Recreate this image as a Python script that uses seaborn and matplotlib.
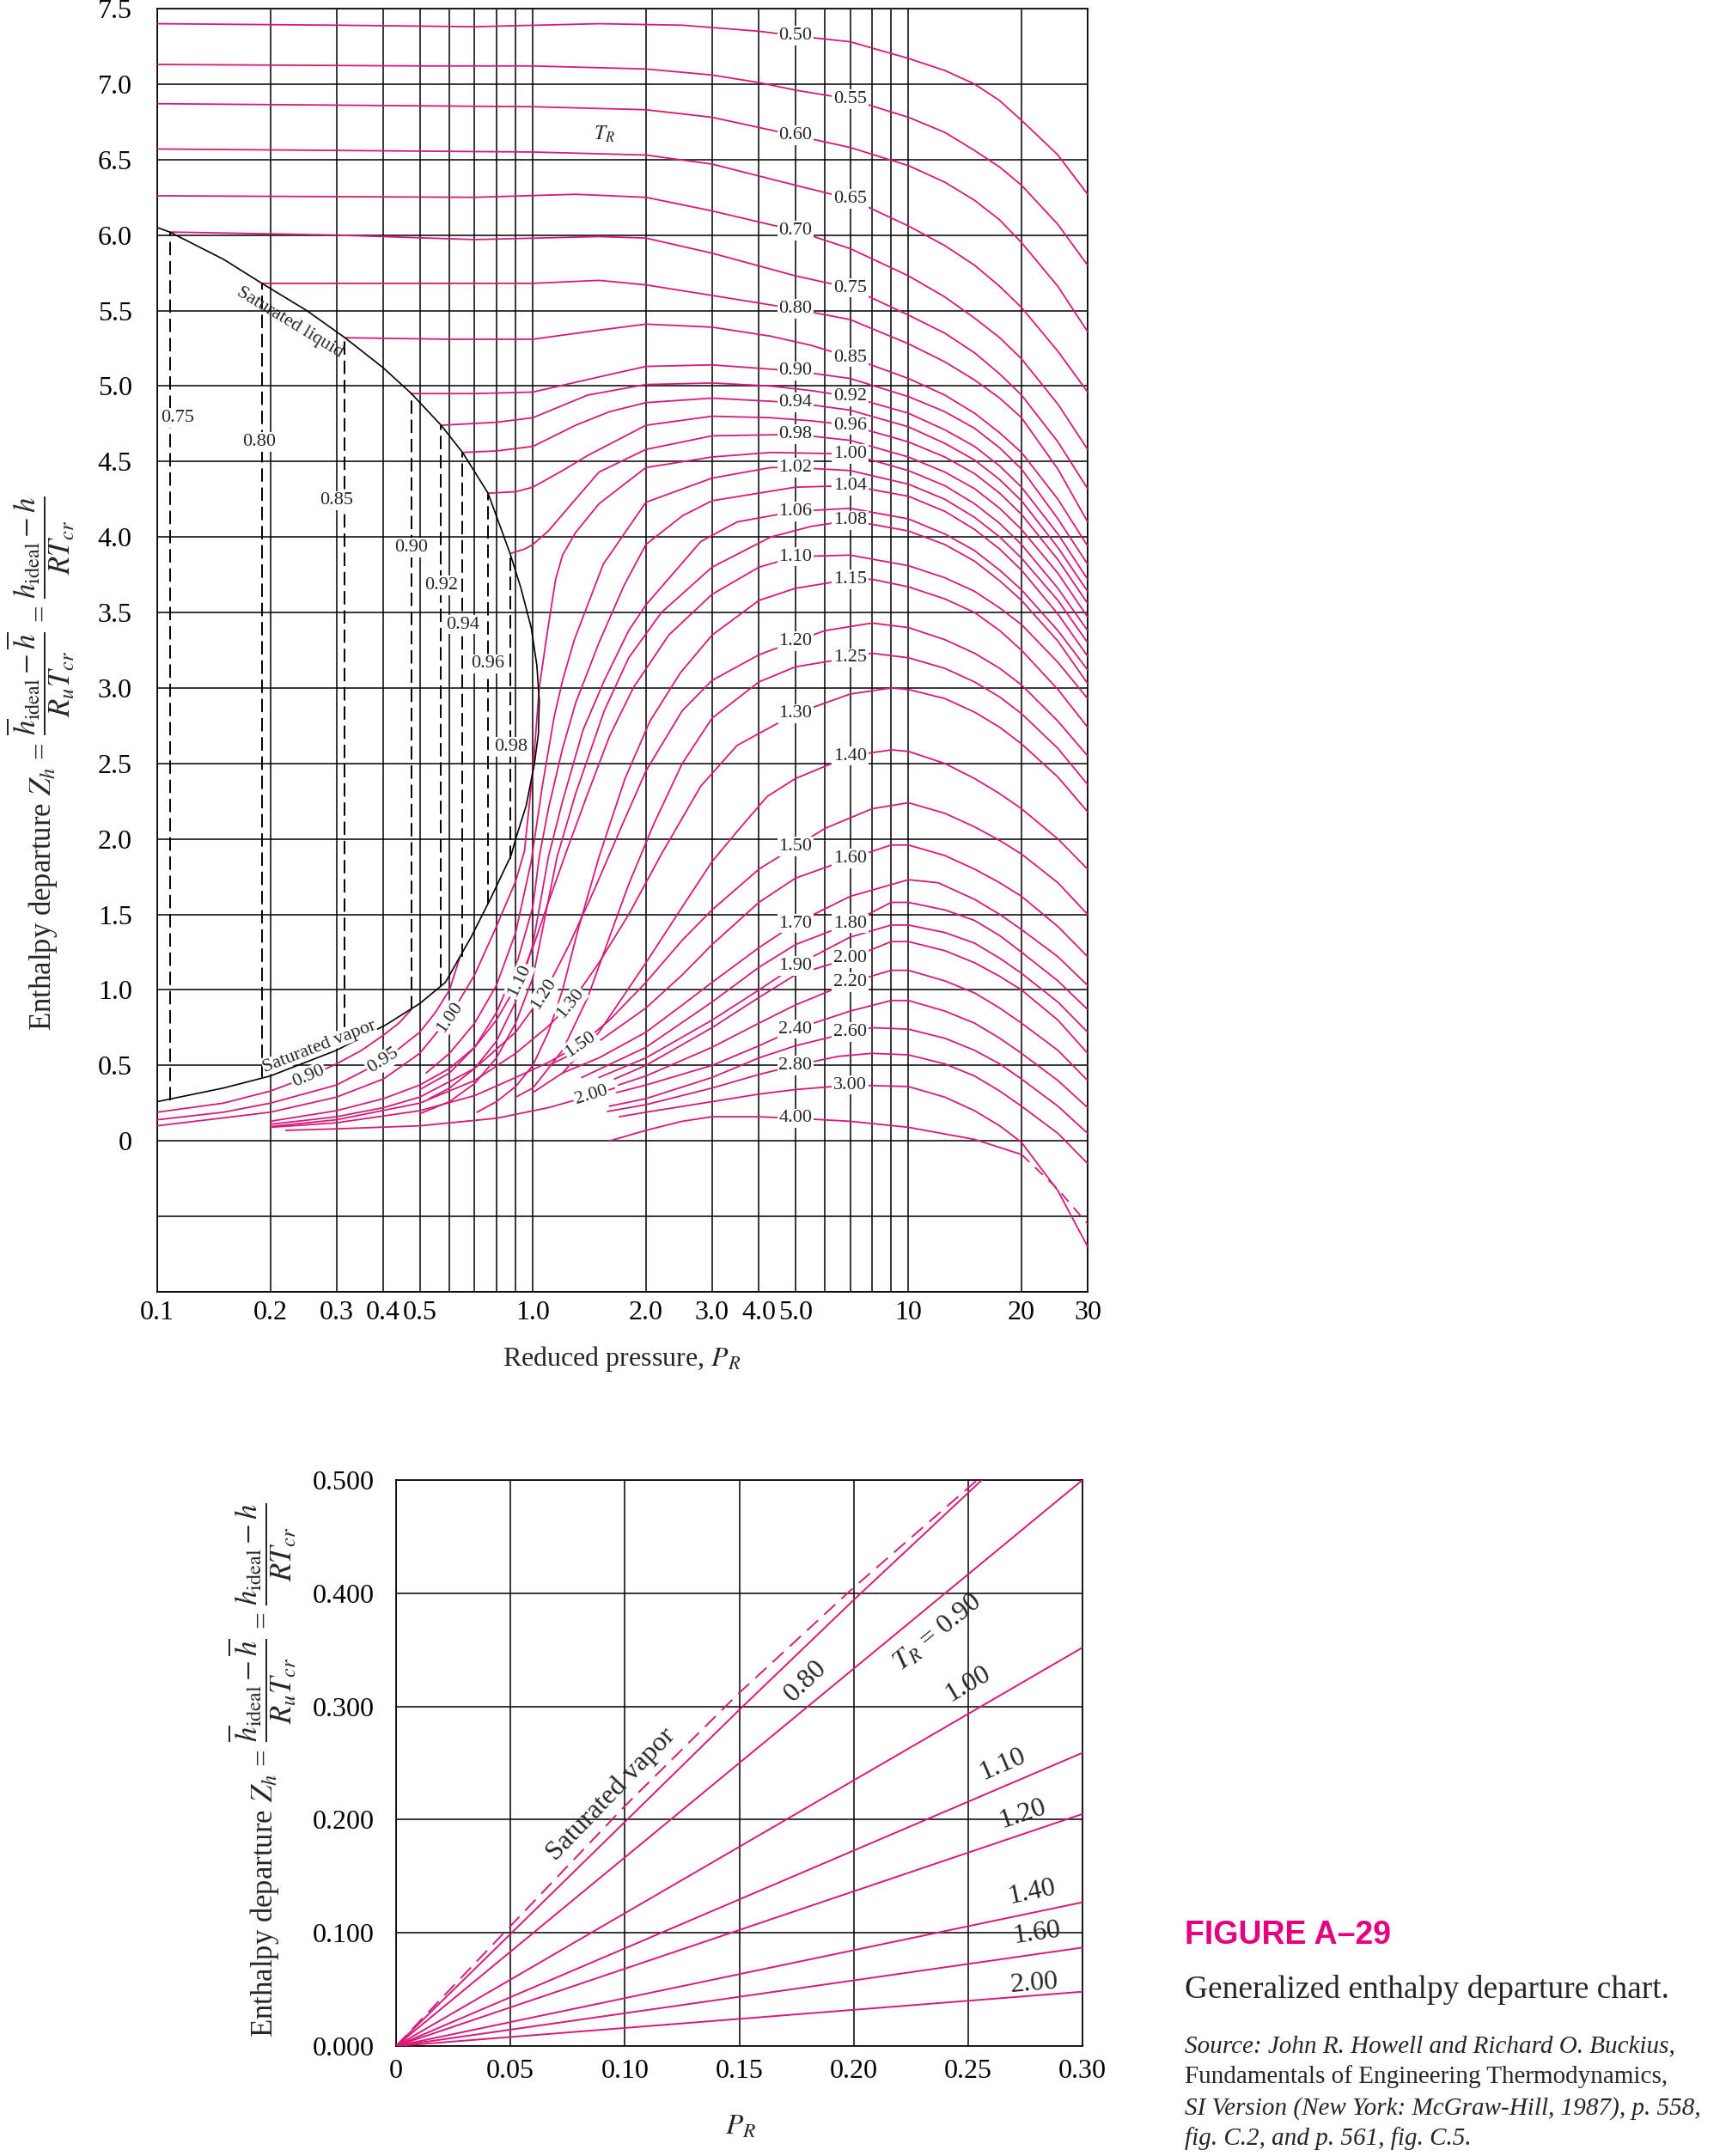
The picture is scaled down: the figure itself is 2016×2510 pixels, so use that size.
import numpy as np
import pandas as pd
import matplotlib
matplotlib.use("Agg")
import matplotlib.pyplot as plt
import seaborn as sns

# Generalized enthalpy departure chart

PINK = "#D8197A"
TITLE_PINK = "#E4007E"

# ---- high / full range isotherms (Pr, Zh) ----
tr050 = [(0.1, 7.40), (0.3, 7.39), (0.7, 7.38), (1.5, 7.40), (2.5, 7.39), (4, 7.35), (5, 7.32), (7, 7.28), (10, 7.17), (12.5, 7.09), (15, 7.00), (17.5, 6.89), (20, 6.76), (25, 6.53), (30, 6.27)]
tr055 = [(0.1, 7.13), (0.5, 7.12), (1, 7.12), (2, 7.10), (3, 7.06), (4, 7.01), (5, 6.96), (7, 6.90), (10, 6.78), (12.5, 6.68), (15, 6.56), (17.5, 6.45), (20, 6.33), (25, 6.07), (30, 5.80)]
tr060 = [(0.1, 6.87), (1, 6.85), (2, 6.83), (3, 6.78), (5, 6.66), (7, 6.58), (10, 6.46), (12.5, 6.35), (15, 6.23), (17.5, 6.10), (20, 5.95), (25, 5.66), (30, 5.36)]
tr065 = [(0.1, 6.57), (1, 6.55), (2, 6.53), (3, 6.47), (5, 6.33), (7, 6.24), (10, 6.06), (12.5, 5.93), (15, 5.80), (17.5, 5.66), (20, 5.52), (25, 5.23), (30, 4.96)]
tr070 = [(0.1, 6.26), (0.7, 6.25), (1.3, 6.27), (2, 6.25), (3, 6.16), (5, 6.03), (7, 5.91), (10, 5.73), (12.5, 5.59), (15, 5.45), (17.5, 5.32), (20, 5.18), (25, 4.88), (30, 4.58)]
tr075 = [(0.108, 6.02), (0.3, 6.00), (0.7, 5.97), (1.5, 5.99), (2, 5.98), (3, 5.88), (5, 5.73), (7, 5.65), (10, 5.47), (12.5, 5.35), (15, 5.22), (17.5, 5.08), (20, 4.94), (25, 4.63), (30, 4.32)]
tr080 = [(0.19, 5.68), (0.5, 5.68), (1, 5.68), (1.5, 5.70), (2, 5.67), (3, 5.60), (4, 5.55), (5, 5.51), (7, 5.44), (10, 5.28), (12.5, 5.16), (15, 5.04), (17.5, 4.92), (20, 4.79), (25, 4.45), (30, 4.10)]
tr085 = [(0.316, 5.32), (0.6, 5.31), (1, 5.31), (1.5, 5.37), (2, 5.41), (3, 5.39), (4.3, 5.33), (5.5, 5.27), (7, 5.19), (10, 5.05), (12.5, 4.94), (15, 4.82), (17.5, 4.69), (20, 4.56), (25, 4.25), (30, 3.94)]
tr090 = [(0.475, 4.95), (0.7, 4.95), (1, 4.96), (1.5, 5.06), (2, 5.13), (3, 5.14), (5, 5.10), (7, 5.05), (10, 4.93), (12.5, 4.83), (15, 4.72), (17.5, 4.59), (20, 4.45), (25, 4.12), (30, 3.82)]
tr092 = [(0.57, 4.74), (0.8, 4.76), (1, 4.79), (1.4, 4.94), (2, 5.01), (3, 5.02), (4.3, 5.00), (5.5, 4.97), (7, 4.93), (10, 4.82), (12.5, 4.71), (15, 4.60), (17.5, 4.47), (20, 4.33), (25, 4.02), (30, 3.72)]
tr094 = [(0.65, 4.56), (0.8, 4.57), (1, 4.60), (1.3, 4.74), (1.6, 4.83), (2, 4.89), (3, 4.92), (5, 4.89), (7, 4.84), (10, 4.73), (12.5, 4.62), (15, 4.51), (17.5, 4.38), (20, 4.24), (25, 3.93), (30, 3.64)]
tr096 = [(0.76, 4.29), (0.9, 4.30), (1, 4.33), (1.2, 4.44), (1.4, 4.54), (2, 4.74), (3, 4.80), (4.3, 4.79), (5.5, 4.77), (7, 4.74), (10, 4.63), (12.5, 4.53), (15, 4.42), (17.5, 4.29), (20, 4.15), (25, 3.85), (30, 3.56)]
tr098 = [(0.87, 3.89), (0.95, 3.92), (1, 3.95), (1.1, 4.04), (1.2, 4.15), (1.5, 4.43), (2, 4.58), (3, 4.67), (5, 4.68), (7, 4.64), (10, 4.53), (12.5, 4.43), (15, 4.32), (17.5, 4.19), (20, 4.05), (25, 3.76), (30, 3.47)]
tr100 = [(0.1, 0.10), (0.2, 0.19), (0.3, 0.29), (0.4, 0.41), (0.5, 0.58), (0.6, 0.82), (0.7, 1.10), (0.8, 1.42), (0.9, 1.72), (0.95, 1.92), (1.0, 2.45), (1.04, 3.00), (1.09, 3.35), (1.15, 3.72), (1.2, 3.88), (1.3, 4.03), (1.5, 4.22), (2, 4.46), (3, 4.53), (4.3, 4.56), (7, 4.55), (10, 4.44), (12.5, 4.34), (15, 4.22), (17.5, 4.09), (20, 3.95), (25, 3.66), (30, 3.38)]
tr102 = [(0.52, 0.45), (0.6, 0.58), (0.7, 0.78), (0.8, 1.03), (0.9, 1.38), (0.99, 1.85), (1.06, 2.35), (1.14, 2.81), (1.2, 3.05), (1.29, 3.32), (1.54, 3.82), (2, 4.23), (3, 4.39), (4.3, 4.46), (5, 4.46), (7, 4.44), (10, 4.35), (12.5, 4.25), (15, 4.13), (17.5, 4.00), (20, 3.86), (25, 3.58), (30, 3.30)]
tr104 = [(0.5, 0.34), (0.6, 0.45), (0.7, 0.62), (0.8, 0.85), (0.9, 1.15), (1.0, 1.55), (1.04, 1.88), (1.1, 2.2), (1.2, 2.6), (1.3, 2.9), (1.5, 3.3), (1.75, 3.68), (2, 3.95), (2.5, 4.14), (3, 4.24), (5, 4.33), (7, 4.34), (10, 4.27), (12.5, 4.17), (15, 4.05), (17.5, 3.92), (20, 3.78), (25, 3.49), (30, 3.21)]
tr106 = [(0.53, 0.28), (0.6, 0.35), (0.7, 0.48), (0.8, 0.66), (0.9, 0.92), (1.0, 1.3), (1.1, 1.88), (1.2, 2.25), (1.36, 2.72), (1.55, 3.05), (1.8, 3.38), (2, 3.55), (2.8, 3.97), (3.5, 4.1), (5, 4.17), (7, 4.19), (10, 4.12), (12.5, 4.02), (15, 3.91), (17.5, 3.78), (20, 3.65), (25, 3.38), (30, 3.12)]
tr108 = [(0.5, 0.18), (0.6, 0.26), (0.7, 0.38), (0.8, 0.55), (0.9, 0.78), (1.0, 1.08), (1.16, 1.88), (1.3, 2.3), (1.55, 2.85), (1.8, 3.2), (2.2, 3.5), (3, 3.8), (4.3, 4.0), (5.5, 4.07), (7, 4.11), (10, 4.04), (12.5, 3.95), (15, 3.84), (17.5, 3.71), (20, 3.58), (25, 3.31), (30, 3.03)]
tr110 = [(0.2, 0.13), (0.3, 0.2), (0.4, 0.28), (0.5, 0.37), (0.6, 0.48), (0.7, 0.62), (0.8, 0.8), (0.92, 1.06), (1.0, 1.28), (1.1, 1.58), (1.23, 1.92), (1.4, 2.3), (1.6, 2.68), (1.85, 3.0), (2.3, 3.35), (3, 3.62), (4, 3.8), (5, 3.87), (7, 3.88), (10, 3.81), (12.5, 3.73), (15, 3.64), (17.5, 3.53), (20, 3.42), (25, 3.17), (30, 2.93)]
tr115 = [(0.71, 0.19), (0.8, 0.26), (0.9, 0.36), (1.0, 0.5), (1.1, 0.72), (1.2, 1.0), (1.32, 1.4), (1.5, 1.88), (1.76, 2.4), (2.05, 2.78), (2.47, 3.1), (3, 3.35), (4, 3.58), (5, 3.66), (7, 3.72), (8, 3.72), (10, 3.67), (12.5, 3.59), (15, 3.5), (17.5, 3.38), (20, 3.25), (25, 2.99), (30, 2.74)]
tr120 = [(0.2, 0.11), (0.3, 0.16), (0.4, 0.22), (0.5, 0.29), (0.7, 0.48), (0.9, 0.72), (1.08, 0.99), (1.25, 1.3), (1.45, 1.65), (1.7, 2.05), (2, 2.45), (2.5, 2.85), (3, 3.05), (4, 3.22), (5, 3.31), (6, 3.38), (8, 3.43), (10, 3.4), (12.5, 3.32), (15, 3.23), (17.5, 3.13), (20, 3.02), (25, 2.78), (30, 2.55)]
tr125 = [(0.9, 0.29), (1.0, 0.35), (1.2, 0.6), (1.4, 0.95), (1.6, 1.35), (1.8, 1.7), (2.1, 2.1), (2.5, 2.5), (3, 2.8), (4, 3.04), (5, 3.14), (7, 3.2), (8, 3.23), (10, 3.2), (12.5, 3.13), (15, 3.04), (17.5, 2.94), (20, 2.83), (25, 2.6), (30, 2.36)]
tr130 = [(0.2, 0.095), (0.3, 0.14), (0.5, 0.25), (0.7, 0.4), (0.9, 0.58), (1.1, 0.76), (1.26, 0.91), (1.5, 1.18), (1.8, 1.5), (2.2, 1.9), (2.8, 2.35), (3.5, 2.62), (5, 2.83), (7, 2.96), (9, 3.0), (10, 2.99), (12.5, 2.93), (15, 2.84), (17.5, 2.74), (20, 2.63), (25, 2.41), (30, 2.18)]
tr140 = [(1.0, 0.32), (1.2, 0.45), (1.5, 0.72), (2, 1.18), (2.5, 1.55), (3, 1.85), (3.5, 2.05), (4.2, 2.28), (5, 2.4), (7, 2.55), (9, 2.59), (10, 2.58), (12.5, 2.5), (15, 2.4), (17.5, 2.3), (20, 2.2), (25, 2.0), (30, 1.8)]
tr150 = [(0.2, 0.09), (0.3, 0.12), (0.5, 0.2), (0.7, 0.3), (0.9, 0.42), (1.1, 0.52), (1.34, 0.64), (1.6, 0.8), (2, 1.05), (2.5, 1.33), (3, 1.53), (4, 1.8), (5, 1.95), (6, 2.07), (8, 2.2), (10, 2.24), (12.5, 2.17), (15, 2.08), (17.5, 1.99), (20, 1.9), (25, 1.71), (30, 1.5)]
tr160 = [(1.1, 0.5), (1.5, 0.66), (2, 0.88), (2.5, 1.1), (3, 1.3), (4, 1.58), (5, 1.74), (7, 1.87), (9, 1.96), (10, 1.96), (12.5, 1.89), (15, 1.8), (17.5, 1.71), (20, 1.62), (25, 1.42), (30, 1.22)]
tr170 = [(1.2, 0.45), (1.5, 0.55), (2, 0.72), (2.5, 0.9), (3, 1.05), (4, 1.28), (5, 1.44), (7, 1.62), (10, 1.73), (12, 1.71), (15, 1.6), (17.5, 1.5), (20, 1.4), (25, 1.22), (30, 1.03)]
tr180 = [(1.35, 0.42), (2, 0.62), (3, 0.92), (4, 1.15), (5, 1.3), (7, 1.44), (9, 1.58), (10, 1.58), (12.5, 1.53), (15, 1.46), (17.5, 1.36), (20, 1.25), (25, 1.06), (30, 0.87)]
tr190 = [(1.5, 0.42), (2, 0.55), (3, 0.8), (4, 1.0), (5, 1.16), (7, 1.35), (9, 1.43), (10, 1.43), (12.5, 1.38), (15, 1.31), (17.5, 1.21), (20, 1.11), (25, 0.92), (30, 0.72)]
tr200 = [(1.65, 0.41), (2, 0.5), (3, 0.75), (4, 0.95), (5, 1.1), (7, 1.21), (9, 1.32), (10, 1.32), (12.5, 1.26), (15, 1.18), (17.5, 1.09), (20, 1.0), (25, 0.8), (30, 0.58)]
tr220 = [(1.69, 0.37), (2, 0.43), (3, 0.62), (4, 0.78), (5, 0.9), (7, 1.05), (9, 1.13), (10, 1.13), (12.5, 1.06), (15, 0.98), (17.5, 0.88), (20, 0.78), (25, 0.6), (30, 0.40)]
tr240 = [(1.67, 0.32), (2, 0.37), (3, 0.5), (4, 0.63), (5, 0.74), (7, 0.86), (9, 0.93), (10, 0.93), (12.5, 0.86), (15, 0.78), (17.5, 0.68), (20, 0.58), (25, 0.4), (30, 0.22)]
tr260 = [(1.6, 0.23), (2, 0.28), (3, 0.42), (4, 0.55), (5, 0.63), (7, 0.72), (8, 0.75), (10, 0.74), (12.5, 0.68), (15, 0.6), (17.5, 0.51), (20, 0.41), (25, 0.23), (30, 0.05)]
tr280 = [(1.58, 0.195), (2, 0.24), (3, 0.35), (4, 0.44), (5, 0.5), (6.5, 0.56), (8, 0.58), (10, 0.57), (12.5, 0.51), (15, 0.43), (17.5, 0.33), (20, 0.23), (25, 0.05), (30, -0.15)]
tr300 = [(1.7, 0.16), (2, 0.19), (3, 0.26), (4, 0.31), (5, 0.34), (7, 0.37), (10, 0.36), (12.5, 0.29), (15, 0.2), (17.5, 0.1), (20, -0.01), (25, -0.33), (30, -0.7)]
tr400 = [(1.6, 0.0), (2, 0.07), (2.5, 0.13), (3, 0.16), (4, 0.16), (5, 0.15), (7, 0.13), (10, 0.09), (15, 0.01), (20, -0.09)]
tr400_dash = [(20, -0.09), (25, -0.32), (30, -0.55)]

# low pressure (vapour) branches
lo090 = [(0.1, 0.19), (0.15, 0.25), (0.2, 0.33), (0.25, 0.42), (0.3, 0.51), (0.35, 0.6), (0.4, 0.7), (0.44, 0.78), (0.475, 0.87)]
lo095 = [(0.1, 0.14), (0.15, 0.19), (0.2, 0.25), (0.3, 0.37), (0.4, 0.53), (0.5, 0.72), (0.55, 0.85), (0.6, 1.0), (0.64, 1.22)]
lo200 = [(0.22, 0.07), (0.3, 0.08), (0.5, 0.1), (0.8, 0.15), (1.1, 0.22), (1.43, 0.30), (1.65, 0.35)]

# saturation dome: liquid branch then vapour branch
sat_liquid = [(0.1, 6.05), (0.108, 6.02), (0.15, 5.84), (0.19, 5.68), (0.25, 5.50), (0.316, 5.32), (0.4, 5.12), (0.475, 4.95), (0.57, 4.74), (0.65, 4.56), (0.76, 4.29), (0.87, 3.89), (0.93, 3.66), (0.99, 3.40), (1.025, 3.15), (1.04, 2.92)]
sat_vapor = [(1.04, 2.92), (1.035, 2.7), (1.01, 2.5), (0.96, 2.22), (0.9, 2.0), (0.875, 1.89), (0.77, 1.6), (0.685, 1.35), (0.585, 1.05), (0.5, 0.91), (0.407, 0.77), (0.3, 0.6), (0.2, 0.43), (0.15, 0.35), (0.1, 0.26)]

# dashed two-phase lines
sat_tr = ["0.75", "0.80", "0.85", "0.90", "0.92", "0.94", "0.96", "0.98"]
sat_pr = [0.108, 0.19, 0.316, 0.475, 0.57, 0.65, 0.76, 0.87]
sat_zl = [6.02, 5.68, 5.32, 4.95, 4.74, 4.56, 4.29, 3.89]
sat_zv = [0.27, 0.42, 0.63, 0.87, 1.02, 1.22, 1.57, 1.87]
sat_lab_pr = [0.113, 0.187, 0.30, 0.475, 0.57, 0.65, 0.76, 0.875]
sat_lab_z = [4.79, 4.63, 4.24, 3.93, 3.68, 3.42, 3.16, 2.61]

# curve labels at Pr = 5 and Pr = 7
lab_at5 = ["0.50", "0.60", "0.70", "0.80", "0.90", "0.94", "0.98", "1.02", "1.06", "1.10", "1.20", "1.30", "1.50", "1.70", "1.90", "2.40", "2.80", "4.00"]
lab_at7 = ["0.55", "0.65", "0.75", "0.85", "0.92", "0.96", "1.00", "1.04", "1.08", "1.15", "1.25", "1.40", "1.60", "1.80", "2.00", "2.20", "2.60", "3.00"]
low_lab = ["0.90", "0.95", "1.00", "1.10", "1.20", "1.30", "1.50", "2.00"]
low_key = ["lo0.90", "lo0.95", "1.00", "1.10", "1.20", "1.30", "1.50", "lo2.00"]
low_lab_pr = [0.253, 0.40, 0.60, 0.92, 1.07, 1.26, 1.34, 1.43]

x_ticks = [0.1, 0.2, 0.3, 0.4, 0.5, 1, 2, 3, 4, 5, 10, 20, 30]
x_ticklabels = ["0.1", "0.2", "0.3", "0.4", "0.5", "1.0", "2.0", "3.0", "4.0", "5.0", "10", "20", "30"]
x_minor = [0.6, 0.7, 0.8, 0.9, 6, 7, 8, 9]

# ---- low pressure chart ----
bot_satvap = [(0, 0), (0.05, 0.106), (0.10, 0.212), (0.15, 0.312), (0.20, 0.405), (0.254, 0.50)]
bot_080 = [(0, 0), (0.05, 0.099), (0.10, 0.198), (0.15, 0.297), (0.20, 0.394), (0.256, 0.50)]
bot_tr = ["0.90", "1.00", "1.10", "1.20", "1.40", "1.60", "2.00"]
bot_end_z = [0.50, 0.352, 0.259, 0.205, 0.127, 0.087, 0.048]
bot_labels = ["Saturated vapor", "0.80", r"$T_R$ = 0.90", "1.00", "1.10", "1.20", "1.40", "1.60", "2.00"]
bot_lab_x = [0.094, 0.179, 0.237, 0.250, 0.265, 0.274, 0.278, 0.280, 0.279]
bot_lab_z = [0.222, 0.322, 0.365, 0.320, 0.249, 0.205, 0.136, 0.100, 0.055]

sns.set_theme(style="white")
plt.rcParams["font.family"] = ["Liberation Serif", "DejaVu Serif"]
plt.rcParams["mathtext.fontset"] = "stix"

curves = {
    "0.50": tr050, "0.55": tr055, "0.60": tr060, "0.65": tr065, "0.70": tr070,
    "0.75": tr075, "0.80": tr080, "0.85": tr085, "0.90": tr090, "0.92": tr092,
    "0.94": tr094, "0.96": tr096, "0.98": tr098, "1.00": tr100, "1.02": tr102,
    "1.04": tr104, "1.06": tr106, "1.08": tr108, "1.10": tr110, "1.15": tr115,
    "1.20": tr120, "1.25": tr125, "1.30": tr130, "1.40": tr140, "1.50": tr150,
    "1.60": tr160, "1.70": tr170, "1.80": tr180, "1.90": tr190, "2.00": tr200,
    "2.20": tr220, "2.40": tr240, "2.60": tr260, "2.80": tr280, "3.00": tr300,
    "4.00": tr400, "lo0.90": lo090, "lo0.95": lo095, "lo2.00": lo200,
}
rows = [(k, p, z) for k, pts in curves.items() for p, z in pts]
df = pd.DataFrame(rows, columns=["curve", "pr", "z"])

fig = plt.figure(figsize=(20.16, 25.10), dpi=100)
ax = fig.add_axes([183 / 2016, 1 - 1504 / 2510, (1266 - 183) / 2016, (1504 - 10) / 2510])
ax.set_xscale("log")
ax.set_xlim(0.1, 30)
ax.set_ylim(-1.0, 7.5)

sns.lineplot(data=df, x="pr", y="z", units="curve", estimator=None, sort=False,
             color=PINK, lw=1.3, ax=ax, zorder=3)
dash = pd.DataFrame(tr400_dash, columns=["pr", "z"])
sns.lineplot(data=dash, x="pr", y="z", estimator=None, sort=False, color=PINK, lw=1.3,
             linestyle=(0, (7, 5)), ax=ax, zorder=3)
dome = pd.DataFrame(sat_liquid + sat_vapor[1:], columns=["pr", "z"])
sns.lineplot(data=dome, x="pr", y="z", estimator=None, sort=False, color="black", lw=1.2,
             ax=ax, zorder=3)
ax.vlines(sat_pr, sat_zv, sat_zl, colors="black", linestyles=(0, (8, 3.5)), lw=1.4, zorder=2)

ax.set_xticks(x_ticks)
ax.set_xticklabels(x_ticklabels)
ax.set_xticks(x_minor, minor=True)
ax.set_xticklabels([], minor=True)
yt = np.arange(-1.0, 7.51, 0.5)
ax.set_yticks(yt)
ax.set_yticklabels(["" if v < 0 else ("0" if v == 0 else f"{v:.1f}") for v in yt])
ax.tick_params(axis="both", which="both", length=0, labelsize=23, colors="black")
ax.tick_params(axis="y", pad=21)
ax.tick_params(axis="x", pad=7)
ax.grid(True, which="both", color="black", lw=1.1)
ax.set_axisbelow(True)
for s in ax.spines.values():
    s.set_color("black")
    s.set_linewidth(1.2)
ax.set_xlabel("")
ax.set_ylabel("")


def log_interp(pts, x0):
    xs = np.log10([p[0] for p in pts])
    ys = [p[1] for p in pts]
    return float(np.interp(np.log10(x0), xs, ys))


def angle_on(axis, pts, x0, logx=True, d=0.03):
    if logx:
        xa, xb = x0 / (1 + d), x0 * (1 + d)
        ya, yb = log_interp(pts, xa), log_interp(pts, xb)
    else:
        xs = [p[0] for p in pts]
        ys = [p[1] for p in pts]
        xa, xb = x0 - d * 0.3, x0 + d * 0.3
        ya, yb = np.interp(xa, xs, ys), np.interp(xb, xs, ys)
    pa, pb = axis.transData.transform([(xa, ya), (xb, yb)])
    return np.degrees(np.arctan2(pb[1] - pa[1], pb[0] - pa[0]))


box = dict(boxstyle="square,pad=0.08", fc="white", ec="none")
for names, px in ((lab_at5, 5.0), (lab_at7, 7.0)):
    for n in names:
        ax.text(px, log_interp(curves[n], px), n, fontsize=16, ha="center", va="center",
                bbox=box, zorder=6)

for n, k, px in zip(low_lab, low_key, low_lab_pr):
    ang = angle_on(ax, curves[k], px)
    ax.text(px, log_interp(curves[k], px), n, fontsize=16, ha="center", va="center",
            rotation=ang, rotation_mode="anchor", bbox=box, zorder=6)

for n, px, pz in zip(sat_tr, sat_lab_pr, sat_lab_z):
    ax.text(px, pz, n, fontsize=16, ha="center", va="center", bbox=box, zorder=6)

ax.text(0.225, 5.42, "Saturated liquid", fontsize=16, ha="center", va="center",
        rotation=angle_on(ax, sat_liquid, 0.225), rotation_mode="anchor", zorder=6)
vap_sorted = sat_vapor[::-1]
ax.text(0.27, 0.625, "Saturated vapor", fontsize=16, ha="center", va="center",
        rotation=angle_on(ax, vap_sorted[:11], 0.27), rotation_mode="anchor",
        bbox=dict(boxstyle="square,pad=0.0", fc="white", ec="none"), zorder=6)
ax.text(1.55, 6.67, r"$T_R$", fontsize=17, ha="center", va="center", zorder=6)

fig.text(724 / 2016, 1 - 1582 / 2510, r"Reduced pressure, $P_R$", fontsize=23,
         ha="center", va="center")
ylab = (r"Enthalpy departure $Z_h$ = $\dfrac{\overline{h}_{\mathrm{ideal}}-\overline{h}}{R_u T_{cr}}$"
        r" = $\dfrac{h_{\mathrm{ideal}}-h}{RT_{cr}}$")
fig.text(47 / 2016, 1 - 889 / 2510, ylab, fontsize=25, rotation=90, ha="center", va="center")

# ---- bottom chart ----
bx = fig.add_axes([461 / 2016, 1 - 2382 / 2510, (1260 - 461) / 2016, (2382 - 1723) / 2510])
bx.set_xlim(0, 0.30)
bx.set_ylim(0, 0.50)
bsat = pd.DataFrame(bot_satvap, columns=["pr", "z"])
sns.lineplot(data=bsat, x="pr", y="z", estimator=None, sort=False, color=PINK, lw=1.4,
             linestyle=(0, (9, 5)), ax=bx, zorder=3)
b80 = pd.DataFrame(bot_080, columns=["pr", "z"])
sns.lineplot(data=b80, x="pr", y="z", estimator=None, sort=False, color=PINK, lw=1.4,
             ax=bx, zorder=3)
bot_lines = {"Saturated vapor": bot_satvap, "0.80": bot_080}
for t, zend in zip(bot_tr, bot_end_z):
    pts = [(0.0, 0.0), (0.30, zend)]
    bot_lines[t] = pts
    sns.lineplot(x=[p[0] for p in pts], y=[p[1] for p in pts], estimator=None, sort=False,
                 color=PINK, lw=1.4, ax=bx, zorder=3)
bot_keys = ["Saturated vapor", "0.80", "0.90", "1.00", "1.10", "1.20", "1.40", "1.60", "2.00"]
for lab, key, lx, lz in zip(bot_labels, bot_keys, bot_lab_x, bot_lab_z):
    ang = angle_on(bx, bot_lines[key], lx, logx=False)
    bx.text(lx, lz, lab, fontsize=23, ha="center", va="center", rotation=ang,
            rotation_mode="anchor", zorder=6)

bx.set_xticks(np.arange(0, 0.301, 0.05))
bx.set_xticklabels(["0", "0.05", "0.10", "0.15", "0.20", "0.25", "0.30"])
bx.set_yticks(np.arange(0, 0.501, 0.1))
bx.set_yticklabels(["0.000", "0.100", "0.200", "0.300", "0.400", "0.500"])
bx.tick_params(axis="both", length=0, labelsize=23, colors="black")
bx.tick_params(axis="y", pad=18)
bx.tick_params(axis="x", pad=11)
bx.grid(True, color="black", lw=1.1)
bx.set_axisbelow(True)
for s in bx.spines.values():
    s.set_color("black")
    s.set_linewidth(1.2)
bx.set_xlabel("")
bx.set_ylabel("")
fig.text(862 / 2016, 1 - 2476 / 2510, r"$P_R$", fontsize=24, ha="center", va="center")
fig.text(305 / 2016, 1 - 2061 / 2510, ylab, fontsize=25, rotation=90, ha="center", va="center")

# ---- caption ----
cx = 1379 / 2016
fig.text(cx, 1 - 2253 / 2510, "FIGURE A\u201329", fontsize=27, fontweight="bold", color=TITLE_PINK,
         family=["Liberation Sans Narrow", "Liberation Sans", "DejaVu Sans"], va="center")
fig.text(cx, 1 - 2316 / 2510, "Generalized enthalpy departure chart.", fontsize=27, va="center")
fig.text(cx, 1 - 2382 / 2510, "Source: John R. Howell and Richard O. Buckius,", fontsize=21,
         style="italic", va="center")
fig.text(cx, 1 - 2418 / 2510, "Fundamentals of Engineering Thermodynamics,", fontsize=21, va="center")
fig.text(cx, 1 - 2455 / 2510, "SI Version (New York: McGraw-Hill, 1987), p. 558,", fontsize=21,
         style="italic", va="center")
fig.text(cx, 1 - 2490 / 2510, "fig. C.2, and p. 561, fig. C.5.", fontsize=21, style="italic", va="center")

fig.savefig("out.png", dpi=100, facecolor="white")
